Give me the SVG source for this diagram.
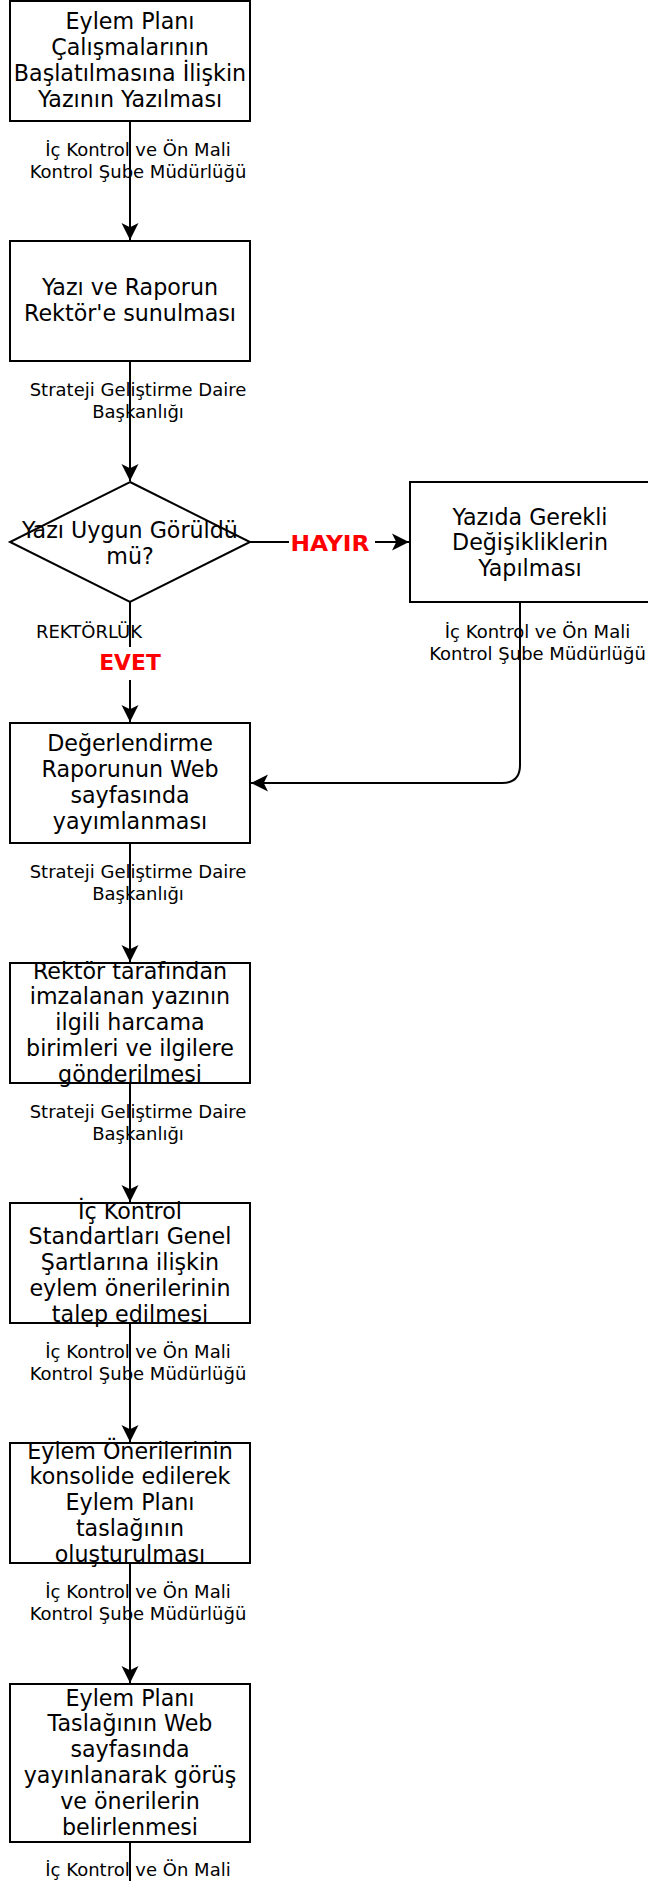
<svg xmlns="http://www.w3.org/2000/svg" width="648" height="1881" viewBox="0 0 648 1881">
<style>
.box{fill:#fff;stroke:#000;stroke-width:2}
.t{font-family:"DejaVu Sans","Liberation Sans",sans-serif;font-size:22.2px;fill:#000;text-anchor:middle}
.lb{font-family:"DejaVu Sans","Liberation Sans",sans-serif;font-size:18px;fill:#000;text-anchor:middle}
.yn{font-family:"DejaVu Sans","Liberation Sans",sans-serif;font-size:21.8px;font-weight:bold;fill:#ff0000;text-anchor:middle}
.c{fill:none;stroke:#000;stroke-width:2}
.bg{fill:#fff;stroke:none}
</style>
<defs>
<marker id="arr" markerUnits="userSpaceOnUse" markerWidth="20" markerHeight="20" viewBox="-18 -10 20 20" refX="0" refY="0" orient="auto">
<path d="M0,0 L-17,-8.5 L-12.75,0 L-17,8.5 Z" fill="#000"/>
</marker>
</defs>

<g id="connectors">
<path class="c" d="M130,0 L130,1"/>
<path class="c" d="M130,121 L130,240" marker-end="url(#arr)"/>
<path class="c" d="M130,361 L130,481" marker-end="url(#arr)"/>
<path class="c" d="M130,602 L130,722" marker-end="url(#arr)"/>
<path class="c" d="M250,542 L409,542" marker-end="url(#arr)"/>
<path class="c" d="M520,602 L520,765 Q520,783 502,783 L251,783" marker-end="url(#arr)"/>
<path class="c" d="M130,843 L130,962" marker-end="url(#arr)"/>
<path class="c" d="M130,1083 L130,1202" marker-end="url(#arr)"/>
<path class="c" d="M130,1323 L130,1442" marker-end="url(#arr)"/>
<path class="c" d="M130,1563 L130,1683" marker-end="url(#arr)"/>
<path class="c" d="M130,1842 L130,1881"/>
</g>

<g id="edge-labels">
<text class="lb" x="138" y="156">İç Kontrol ve Ön Mali</text>
<text class="lb" x="138" y="177.6">Kontrol Şube Müdürlüğü</text>
<text class="lb" x="138" y="396">Strateji Geliştirme Daire</text>
<text class="lb" x="138" y="417.6">Başkanlığı</text>
<text class="lb" x="89" y="638">REKTÖRLÜK</text>
<rect class="bg" x="99" y="647" width="62" height="33"/>
<text class="yn" x="130" y="670">EVET</text>
<rect class="bg" x="289" y="530" width="86" height="26"/>
<text class="yn" x="330" y="550.5" textLength="79" lengthAdjust="spacingAndGlyphs">HAYIR</text>
<text class="lb" x="537.5" y="638.3">İç Kontrol ve Ön Mali</text>
<text class="lb" x="537.5" y="660">Kontrol Şube Müdürlüğü</text>
<text class="lb" x="138" y="878">Strateji Geliştirme Daire</text>
<text class="lb" x="138" y="899.6">Başkanlığı</text>
<text class="lb" x="138" y="1118">Strateji Geliştirme Daire</text>
<text class="lb" x="138" y="1139.6">Başkanlığı</text>
<text class="lb" x="138" y="1358">İç Kontrol ve Ön Mali</text>
<text class="lb" x="138" y="1379.6">Kontrol Şube Müdürlüğü</text>
<text class="lb" x="138" y="1598">İç Kontrol ve Ön Mali</text>
<text class="lb" x="138" y="1619.6">Kontrol Şube Müdürlüğü</text>
<text class="lb" x="138" y="1876">İç Kontrol ve Ön Mali</text>
</g>

<g id="n1">
<rect class="box" x="10" y="1" width="240" height="120"/>
<text class="t" x="130" y="29.4">Eylem Planı</text>
<text class="t" x="130" y="55.3">Çalışmalarının</text>
<text class="t" x="130" y="81.2">Başlatılmasına İlişkin</text>
<text class="t" x="130" y="107.2">Yazının Yazılması</text>
</g>

<g id="n2">
<rect class="box" x="10" y="241" width="240" height="120"/>
<text class="t" x="130" y="295.3">Yazı ve Raporun</text>
<text class="t" x="130" y="321.3">Rektör'e sunulması</text>
</g>

<g id="d1">
<path class="box" d="M130,482 L250,542 L130,602 L10,542 Z"/>
<text class="t" x="130" y="537.5">Yazı Uygun Görüldü</text>
<text class="t" x="130" y="563.5">mü?</text>
</g>

<g id="n3">
<rect class="box" x="410" y="482" width="240" height="120"/>
<text class="t" x="530" y="524.5">Yazıda Gerekli</text>
<text class="t" x="530" y="550.4">Değişikliklerin</text>
<text class="t" x="530" y="576.3">Yapılması</text>
</g>

<g id="n4">
<rect class="box" x="10" y="723" width="240" height="120"/>
<text class="t" x="130" y="751.4">Değerlendirme</text>
<text class="t" x="130" y="777.3">Raporunun Web</text>
<text class="t" x="130" y="803.2">sayfasında</text>
<text class="t" x="130" y="829.2">yayımlanması</text>
</g>

<g id="n5">
<rect class="box" x="10" y="963" width="240" height="120"/>
<text class="t" x="130" y="978.5">Rektör tarafından</text>
<text class="t" x="130" y="1004.4">imzalanan yazının</text>
<text class="t" x="130" y="1030.3">ilgili harcama</text>
<text class="t" x="130" y="1056.2">birimleri ve ilgilere</text>
<text class="t" x="130" y="1082.2">gönderilmesi</text>
</g>

<g id="n6">
<rect class="box" x="10" y="1203" width="240" height="120"/>
<text class="t" x="130" y="1218.5">İç Kontrol</text>
<text class="t" x="130" y="1244.4">Standartları Genel</text>
<text class="t" x="130" y="1270.3">Şartlarına ilişkin</text>
<text class="t" x="130" y="1296.2">eylem önerilerinin</text>
<text class="t" x="130" y="1322.2">talep edilmesi</text>
</g>

<g id="n7">
<rect class="box" x="10" y="1443" width="240" height="120"/>
<text class="t" x="130" y="1458.5">Eylem Önerilerinin</text>
<text class="t" x="130" y="1484.4">konsolide edilerek</text>
<text class="t" x="130" y="1510.3">Eylem Planı</text>
<text class="t" x="130" y="1536.2">taslağının</text>
<text class="t" x="130" y="1562.2">oluşturulması</text>
</g>

<g id="n8">
<rect class="box" x="10" y="1684" width="240" height="158"/>
<text class="t" x="130" y="1705.5">Eylem Planı</text>
<text class="t" x="130" y="1731.4">Taslağının Web</text>
<text class="t" x="130" y="1757.3">sayfasında</text>
<text class="t" x="130" y="1783.2">yayınlanarak görüş</text>
<text class="t" x="130" y="1809.2">ve önerilerin</text>
<text class="t" x="130" y="1835.1">belirlenmesi</text>
</g>
</svg>
